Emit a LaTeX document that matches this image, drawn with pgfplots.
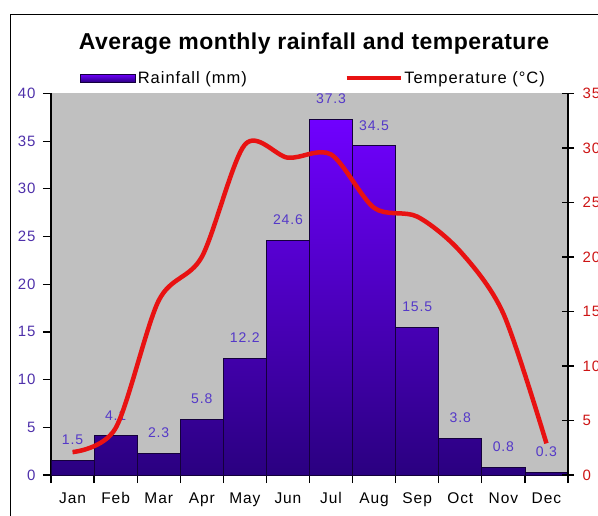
\documentclass[border=0pt]{standalone}
\usepackage{fontspec}
\setmainfont{Liberation Sans}[LetterSpace=6]
\newfontfamily\titlefont{Liberation Sans}[LetterSpace=2]
\usepackage{pgfplots}
\usepackage{pgfplotstable}
\pgfplotsset{compat=1.18}

\definecolor{bartop}{RGB}{112,0,255}
\definecolor{barbot}{RGB}{42,0,128}
\definecolor{baredge}{RGB}{20,0,60}
\definecolor{plotbg}{RGB}{192,192,192}
\definecolor{templine}{RGB}{232,18,18}
\definecolor{vallab}{RGB}{84,56,200}
\definecolor{lefttick}{RGB}{78,48,170}
\definecolor{righttick}{RGB}{205,20,20}

% month index, rainfall (mm), temperature (C)
\pgfplotstableread{
m rain temp
0 1.5 2.1
1 4.1 4.3
2 2.3 16.0
3 5.8 20.0
4 12.2 30.3
5 24.6 29.1
6 37.3 29.4
7 34.5 24.5
8 15.5 23.7
9 3.8 20.5
10 0.8 14.8
11 0.3 2.9
}\climate

\pgfplotsset{
  chartbox/.style={
    scale only axis, width=517pt, height=381.6pt,
    at={(51pt,40pt)}, anchor=south west,
    xmin=-0.5, xmax=11.5, ymin=0,
    /pgf/number format/assume math mode=true,
  },
  rainleg/.style={legend image code/.code={%
    \draw[draw=baredge, line width=0.6pt, top color=bartop, bottom color=barbot]
      (0pt,-4pt) rectangle (55pt,4pt);}},
  templeg/.style={legend image code/.code={%
    \draw[templine, line width=3.5pt] (0pt,0pt) -- (54pt,0pt);}},
}

\begin{document}
\begin{tikzpicture}
\useasboundingbox (0pt,0pt) rectangle (598pt,515pt);
\draw[line width=1.5pt] (10.5pt,-20pt) rectangle (640pt,500.5pt);

\begin{axis}[chartbox, ymax=40,
  axis background/.style={fill=plotbg},
  axis x line*=bottom, axis y line*=left,
  x axis line style={-, line width=2.2pt},
  y axis line style={-, line width=1.3pt},
  tick align=outside, major tick length=8pt, minor tick length=8pt,
  ytick={0,5,...,40},
  ytick style={black, line width=1.2pt},
  yticklabel style={text=lefttick, font=\fontsize{15}{15}\selectfont, xshift=-4pt},
  xtick={0,...,11},
  xticklabels={Jan,Feb,Mar,Apr,May,Jun,Jul,Aug,Sep,Oct,Nov,Dec},
  minor xtick={-0.5,0.5,...,11.5},
  major x tick style={draw=none},
  minor x tick style={black, line width=1.2pt},
  xticklabel style={text=black, font=\fontsize{15.5}{15.5}\selectfont, yshift=-6pt},
]
\addplot[ybar, bar width=1, draw=baredge, line width=0.8pt,
  top color=bartop, bottom color=barbot,
  point meta=y,
  nodes near coords={\pgfmathprintnumber[fixed,fixed zerofill,precision=1,assume math mode=true]{\pgfplotspointmeta}},
  nodes near coords style={text=vallab, font=\fontsize{14}{14}\selectfont, yshift=12pt},
] table[x=m, y=rain] {\climate};
\end{axis}

\begin{axis}[chartbox, ymax=35,
  axis x line=none, axis y line*=right,
  y axis line style={-, line width=1.6pt},
  tick align=center, major tick length=12pt,
  ytick={0,5,...,35},
  ytick style={black, line width=1.2pt},
  yticklabel style={text=righttick, font=\fontsize{15}{15}\selectfont, xshift=5pt},
  legend style={at={(0.0561,1.040)}, anchor=west, draw=none, fill=none,
    inner sep=0pt, font=\fontsize{16.5}{16.5}\selectfont,
    /tikz/every even column/.append style={column sep=96pt}},
  legend columns=2,
]
\addlegendimage{rainleg}
\addlegendentry{Rainfall (mm)}
\addplot[templine, line width=4.5pt, smooth, no marks, templeg]
  table[x=m, y=temp] {\climate};
\addlegendentry{Temperature (°C)}
\end{axis}

\node[anchor=base, font=\titlefont\fontsize{23}{23}\selectfont\bfseries] at (314pt,465.5pt)
  {Average monthly rainfall and temperature};
\end{tikzpicture}
\end{document}
